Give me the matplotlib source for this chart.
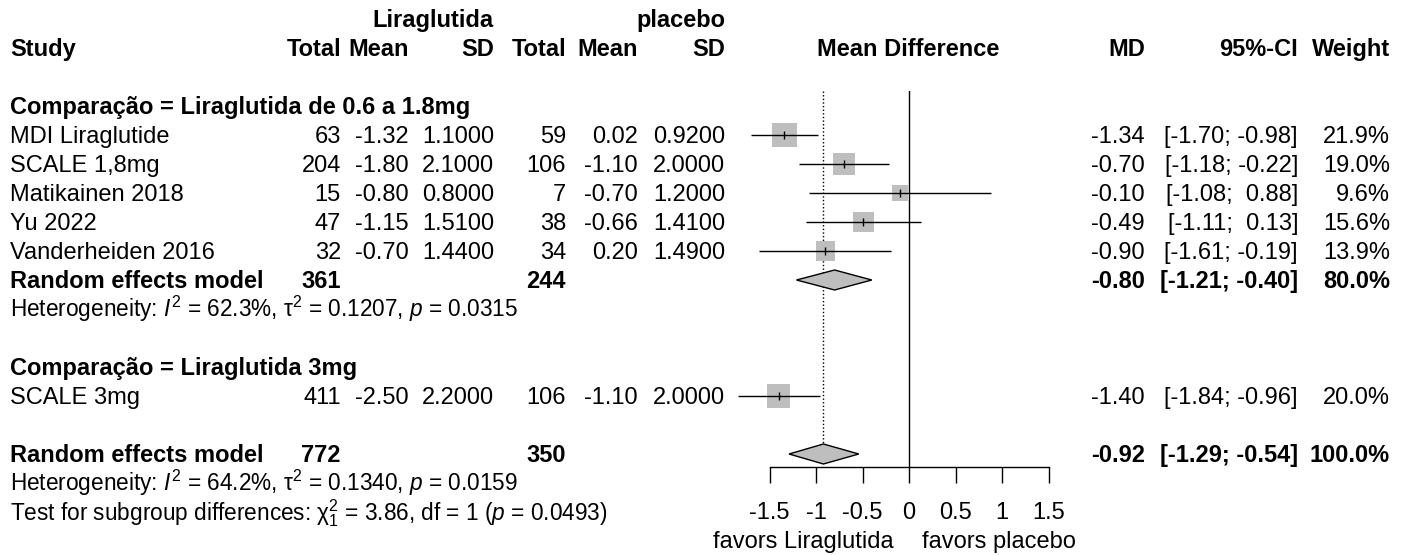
import numpy as np
import matplotlib
matplotlib.use("Agg")
import matplotlib.pyplot as plt
from matplotlib.patches import Polygon

plt.rcParams["font.family"] = ["Liberation Sans", "DejaVu Sans"]
plt.rcParams["mathtext.fontset"] = "custom"
plt.rcParams["mathtext.rm"] = "Liberation Sans"
plt.rcParams["mathtext.it"] = "Liberation Sans:italic"
plt.rcParams["mathtext.bf"] = "Liberation Sans:bold"
plt.rcParams["axes.unicode_minus"] = False

# ---- data ----
studies1 = ["MDI Liraglutide", "SCALE 1,8mg", "Matikainen 2018", "Yu 2022", "Vanderheiden 2016"]
n_lira1 = [63, 204, 15, 47, 32]
mean_lira1 = [-1.32, -1.80, -0.80, -1.15, -0.70]
sd_lira1 = [1.10, 2.10, 0.80, 1.51, 1.44]
n_plac1 = [59, 106, 7, 38, 34]
mean_plac1 = [0.02, -1.10, -0.70, -0.66, 0.20]
sd_plac1 = [0.92, 2.00, 1.20, 1.41, 1.49]
md1 = [-1.34, -0.70, -0.10, -0.49, -0.90]
lo1 = [-1.70, -1.18, -1.08, -1.11, -1.61]
hi1 = [-0.98, -0.22, 0.88, 0.13, -0.19]
w1 = [21.9, 19.0, 9.6, 15.6, 13.9]

studies2 = ["SCALE 3mg"]
n_lira2 = [411]
mean_lira2 = [-2.50]
sd_lira2 = [2.20]
n_plac2 = [106]
mean_plac2 = [-1.10]
sd_plac2 = [2.00]
md2 = [-1.40]
lo2 = [-1.84]
hi2 = [-0.96]
w2 = [20.0]

group_labels = ["Comparação = Liraglutida de 0.6 a 1.8mg", "Comparação = Liraglutida 3mg"]
re1 = dict(n_lira=361, n_plac=244, md=-0.80, lo=-1.21, hi=-0.40, w=80.0)
re_all = dict(n_lira=772, n_plac=350, md=-0.92, lo=-1.29, hi=-0.54, w=100.0)
het1 = r"Heterogeneity: $I^2$ = 62.3%, $\mathrm{\tau}^2$ = 0.1207, $p$ = 0.0315"
het_all = r"Heterogeneity: $I^2$ = 64.2%, $\mathrm{\tau}^2$ = 0.1340, $p$ = 0.0159"
test_sub = r"Test for subgroup differences: $\mathrm{\chi}^2_1$ = 3.86, df = 1 ($p$ = 0.0493)"
xticks = [-1.5, -1, -0.5, 0, 0.5, 1, 1.5]
xticklabels = ["-1.5", "-1", "-0.5", "0", "0.5", "1", "1.5"]

# ---- layout (pixels) ----
W, H = 1411, 555
FS = 17
FS_HET = 16.3
ROW0, STEP = 48, 29          # centre of header row, row height
BASE_OFF = 8                 # baseline below row centre
GREY = "#BEBEBE"

fig = plt.figure(figsize=(W / 100, H / 100), dpi=100)


def put(xpx, k, s, ha="right", bold=False, size=FS):
    y = ROW0 + STEP * k + BASE_OFF
    fig.text(xpx / W, 1 - y / H, s, ha=ha, va="baseline", fontsize=size,
             fontweight="bold" if bold else "normal")


col = dict(study=10, nl=341, ml=409, sl=494, np_=566, mp=638, sp=725,
           md=1145, ci=1298, w=1390)


def ci_str(lo, hi):
    return f"[{lo:5.2f}; {hi:5.2f}]"


# headers
put(col["sl"], -1, "Liraglutida", bold=True)
put(col["sp"], -1, "placebo", bold=True)
put(col["study"], 0, "Study", ha="left", bold=True)
for key, lab in [("nl", "Total"), ("ml", "Mean"), ("sl", "SD"),
                 ("np_", "Total"), ("mp", "Mean"), ("sp", "SD"),
                 ("md", "MD"), ("ci", "95%-CI"), ("w", "Weight")]:
    put(col[key], 0, lab, bold=True)
put(908, 0, "Mean Difference", ha="center", bold=True)


def study_rows(k0, names, nl, ml, sl, npl, mpl, spl, md, lo, hi, w):
    for i, name in enumerate(names):
        k = k0 + i
        put(col["study"], k, name, ha="left")
        put(col["nl"], k, f"{nl[i]}")
        put(col["ml"], k, f"{ml[i]:.2f}")
        put(col["sl"], k, f"{sl[i]:.4f}")
        put(col["np_"], k, f"{npl[i]}")
        put(col["mp"], k, f"{mpl[i]:.2f}")
        put(col["sp"], k, f"{spl[i]:.4f}")
        put(col["md"], k, f"{md[i]:.2f}")
        put(col["ci"], k, ci_str(lo[i], hi[i]))
        put(col["w"], k, f"{w[i]:.1f}%")


def summary_row(k, d):
    put(col["study"], k, "Random effects model", ha="left", bold=True)
    put(col["nl"], k, f"{d['n_lira']}", bold=True)
    put(col["np_"], k, f"{d['n_plac']}", bold=True)
    put(col["md"], k, f"{d['md']:.2f}", bold=True)
    put(col["ci"], k, ci_str(d["lo"], d["hi"]), bold=True)
    put(col["w"], k, f"{d['w']:.1f}%", bold=True)


put(col["study"], 2, group_labels[0], ha="left", bold=True)
rows1 = list(range(3, 3 + len(studies1)))
study_rows(3, studies1, n_lira1, mean_lira1, sd_lira1, n_plac1, mean_plac1, sd_plac1,
           md1, lo1, hi1, w1)
summary_row(8, re1)
put(col["study"], 9, het1, ha="left", size=FS_HET)

put(col["study"], 11, group_labels[1], ha="left", bold=True)
rows2 = [12]
study_rows(12, studies2, n_lira2, mean_lira2, sd_lira2, n_plac2, mean_plac2, sd_plac2,
           md2, lo2, hi2, w2)
summary_row(14, re_all)
put(col["study"], 15, het_all, ha="left", size=FS_HET)
put(col["study"], 16, test_sub, ha="left", size=FS_HET)

# ---- forest panel ----
x_left, x_right = 769.5, 1048.5
y_top, y_axis = 91, 467
fax = fig.add_axes([x_left / W, (H - y_axis) / H, (x_right - x_left) / W, (y_axis - y_top) / H])
fax.set_xlim(-1.5, 1.5)
k_top = (y_top - ROW0) / STEP
k_bot = (y_axis - ROW0) / STEP
fax.set_ylim(k_bot, k_top)
for s in ["top", "right", "left"]:
    fax.spines[s].set_visible(False)
fax.spines["bottom"].set_linewidth(1.0)
fax.set_yticks([])
fax.set_xticks(xticks)
fax.set_xticklabels(xticklabels)
fax.tick_params(axis="x", direction="out", length=11.5, width=1.0, pad=13.5, labelsize=FS)
fax.patch.set_alpha(0)

fax.axvline(0, color="black", lw=1.0)
dh = 10 / STEP
fax.plot([re_all["md"]] * 2, [k_top, 14 - dh], color="black", lw=1.0,
         dashes=(1, 1.6), clip_on=False)

md_all = md1 + md2
lo_all = lo1 + lo2
hi_all = hi1 + hi2
w_all = w1 + w2
rows_all = rows1 + rows2
side = 5.2 * np.sqrt(np.array(w_all))          # square side in px
fax.scatter(md_all, rows_all, marker="s", s=(side * 0.72) ** 2, color=GREY,
            edgecolor="none", zorder=2, clip_on=False)
fax.hlines(rows_all, lo_all, hi_all, color="black", lw=1.0, zorder=3, clip_on=False)
fax.plot(md_all, rows_all, ls="none", marker="|", ms=6, mew=1.0, color="black",
         zorder=4, clip_on=False)

for k, d in [(8, re1), (14, re_all)]:
    fax.add_patch(Polygon([(d["lo"], k), (d["md"], k - dh), (d["hi"], k), (d["md"], k + dh)],
                          closed=True, facecolor=GREY, edgecolor="black", lw=1.0,
                          zorder=3, clip_on=False))

fig.text(803.5 / W, 1 - (540 + 8) / H, "favors Liraglutida", ha="center", va="baseline", fontsize=FS)
fig.text(998.5 / W, 1 - (540 + 8) / H, "favors placebo", ha="center", va="baseline", fontsize=FS)

fig.savefig("out.png", dpi=100)
